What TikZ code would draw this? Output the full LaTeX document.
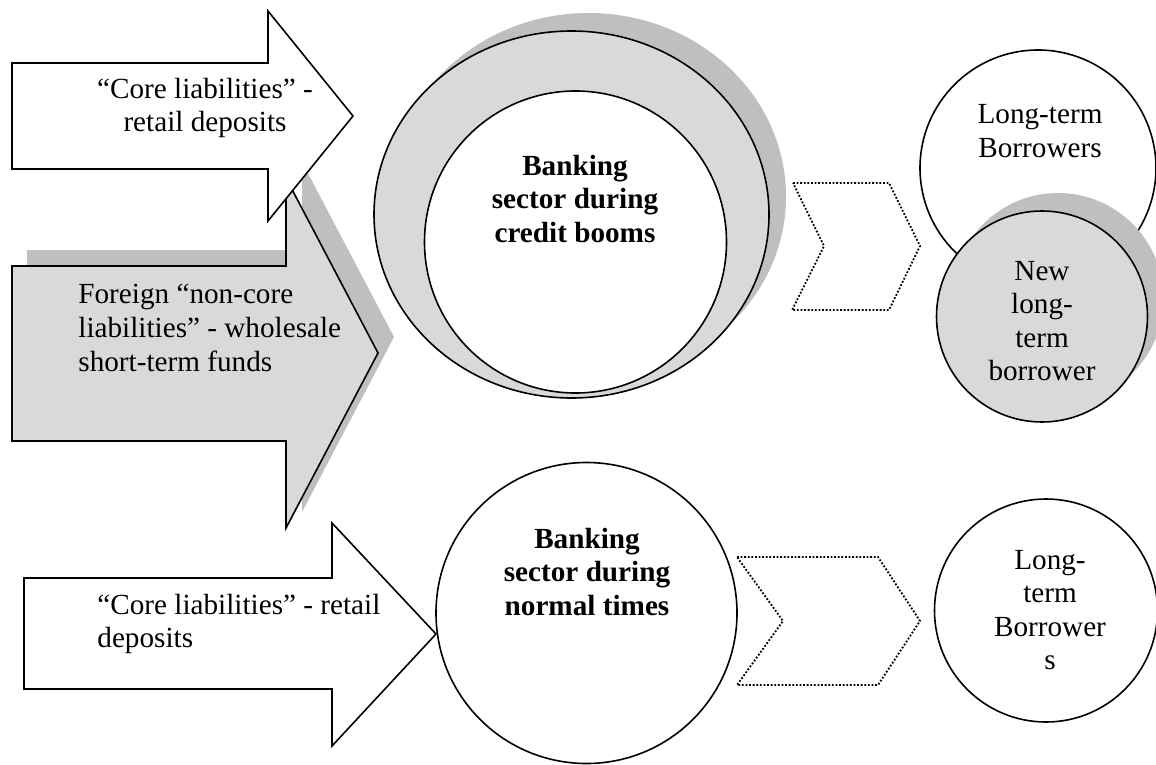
\documentclass[tikz,border=0pt]{standalone}
\usepackage{fontspec}
\setmainfont{Liberation Serif}
\usetikzlibrary{shapes.geometric}

\tikzset{
  lbl/.style={font=\fontsize{14.6}{16.8}\selectfont, inner sep=0pt},
  blk/.style={draw=black, line width=0.8pt},
  shade/.style={fill=black!25, draw=none},
  ring/.style={circle, inner sep=0pt},
  chev/.style={draw=black, line width=0.9pt, dash pattern=on 0.9pt off 0.9pt},
}

\begin{document}
\begin{tikzpicture}[x=0.5pt, y=-0.5pt]
\useasboundingbox (0,0) rectangle (1156,765);

% grey funding arrow and its shadow
\fill[shade] (27,250) -- (302,250) -- (302,162) -- (394,337) -- (302,512) -- (302,425) -- (27,425) -- cycle;
\draw[blk, fill=black!15] (12,266) -- (286,266) -- (286,178) -- (378,353) -- (286,528) -- (286,441) -- (12,441) -- cycle;
\node[lbl, align=left, anchor=west] (foreign) at (78,328) {Foreign “non-core\\liabilities” - wholesale\\short-term funds};

% white arrow on top
\draw[blk, fill=white] (12,63) -- (268,63) -- (268,11) -- (353,116) -- (268,221) -- (268,169) -- (12,169) -- cycle;
\node[lbl, align=center] (coretop) at (205,108) {“Core liabilities” -\\retail deposits};

% banking sector, credit booms
\node[ellipse, inner sep=0pt, shade, minimum width=197.5pt, minimum height=183.5pt] (boomshadow) at (588.5,196.5) {};
\node[ellipse, inner sep=0pt, blk, fill=black!15, minimum width=197.5pt, minimum height=183.5pt] (boomring) at (571.5,214.5) {};
\node[ring, blk, fill=white, minimum size=151pt] (boom) at (575.5,242) {};
\node[lbl, align=center, font=\fontsize{14.6}{16.8}\selectfont\bfseries] (boomtxt) at (575,199) {Banking\\sector during\\credit booms};

\draw[chev] (793,183) -- (889,183) -- (920,246) -- (889,310) -- (792,310) -- (824,246) -- cycle;

% borrowers during the boom
\node[ring, blk, fill=white, minimum size=118pt] (ltb) at (1038,168) {};
\node[lbl, align=center] (ltbtxt) at (1040,131) {Long-term\\Borrowers};
\node[ring, shade, minimum size=105.5pt] (newshadow) at (1058,298.5) {};
\node[ring, blk, fill=black!15, minimum size=105.5pt] (newb) at (1042,316.5) {};
\node[lbl, align=center] (newtxt) at (1042,321) {New\\long-\\term\\borrower};

% normal times
\draw[blk, fill=white] (24,578) -- (332,578) -- (332,523) -- (436,634) -- (332,746) -- (332,689) -- (24,689) -- cycle;
\node[lbl, align=left, anchor=west] (corebot) at (97,624) {“Core liabilities” - retail\\deposits};
\node[ring, blk, fill=white, minimum size=150.5pt] (normal) at (586.5,613) {};
\node[lbl, align=center, font=\fontsize{14.6}{16.8}\selectfont\bfseries] (normaltxt) at (587,572) {Banking\\sector during\\normal times};

\draw[chev] (737,557) -- (878,557) -- (920,621) -- (878,685) -- (737,685) -- (783,621) -- cycle;

\node[ring, blk, fill=white, minimum size=111.5pt] (ltb2) at (1046,610.5) {};
\node[lbl, align=center] (ltb2txt) at (1050,610) {Long-\\term\\Borrower\\s};
\end{tikzpicture}
\end{document}
